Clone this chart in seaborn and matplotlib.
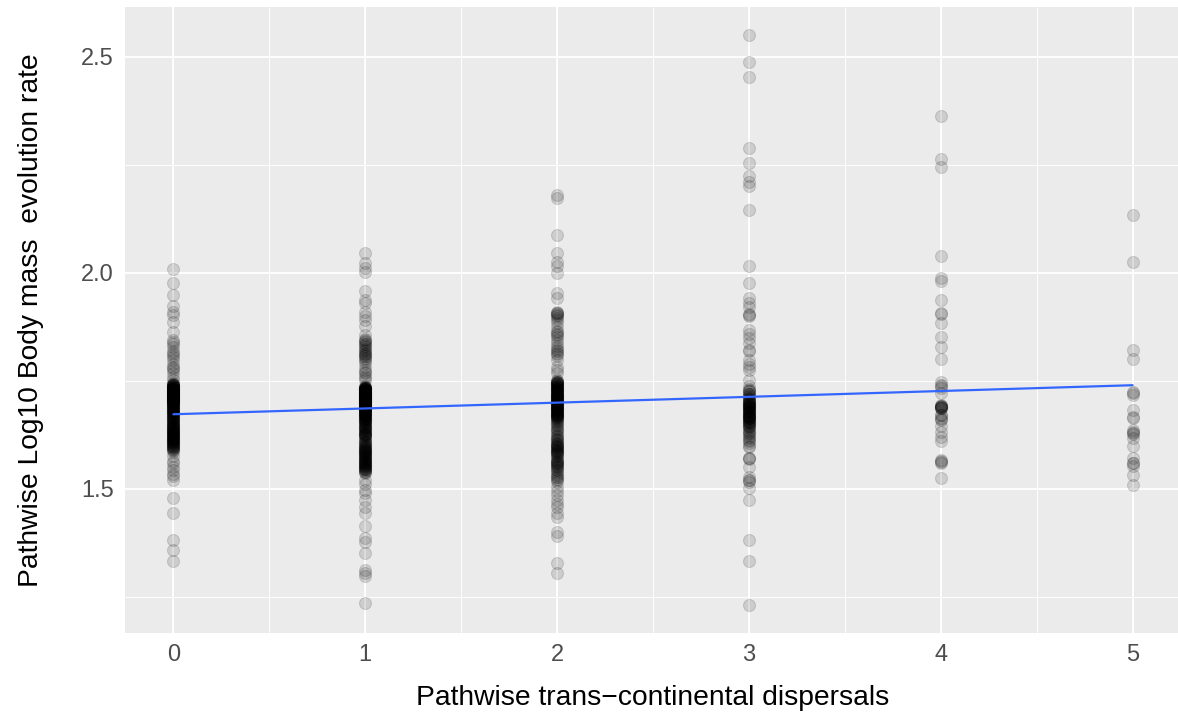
import numpy as np
import pandas as pd
import matplotlib
matplotlib.use("Agg")
import matplotlib.pyplot as plt
import seaborn as sns

# ---- data ----
disp0 = [2.008, 1.976, 1.949, 1.924, 1.910, 1.903, 1.887, 1.864, 1.845, 1.840,
         1.835, 1.829, 1.820, 1.814, 1.810, 1.805, 1.799, 1.790, 1.783, 1.780,
         1.775, 1.768, 1.760, 1.752,
         1.745, 1.740, 1.735, 1.730, 1.726, 1.722, 1.718, 1.714, 1.710, 1.706,
         1.702, 1.698, 1.694, 1.690, 1.686, 1.682, 1.678, 1.674, 1.670, 1.666,
         1.662, 1.658, 1.654, 1.650, 1.646, 1.642, 1.638, 1.634, 1.630, 1.626,
         1.622, 1.618, 1.614, 1.610, 1.605, 1.600, 1.595, 1.590,
         1.728, 1.716, 1.704, 1.692, 1.680, 1.668, 1.656, 1.644, 1.632, 1.620,
         1.712, 1.700, 1.688, 1.676, 1.664, 1.652,
         1.592, 1.597, 1.602, 1.607, 1.612, 1.617, 1.622, 1.627, 1.632, 1.637,
         1.642, 1.647, 1.652, 1.657, 1.662, 1.667, 1.672, 1.677, 1.682, 1.687,
         1.692, 1.697, 1.702, 1.707, 1.712, 1.717, 1.722, 1.727, 1.732, 1.737,
         1.601, 1.611, 1.621, 1.631, 1.641, 1.651, 1.661, 1.671, 1.681, 1.691,
         1.701, 1.711, 1.721, 1.731, 1.741, 1.665, 1.675, 1.685, 1.695, 1.705,
         1.715, 1.725, 1.735, 1.679, 1.689, 1.699, 1.709, 1.719, 1.683, 1.693,
         1.701, 1.704, 1.707, 1.710, 1.713, 1.716, 1.719, 1.722, 1.725, 1.728,
         1.731, 1.734, 1.737, 1.740, 1.743, 1.703, 1.709, 1.715, 1.721, 1.727,
         1.733, 1.739, 1.706, 1.712, 1.718, 1.724, 1.730, 1.736, 1.742, 1.700,
         1.705, 1.711, 1.717, 1.723, 1.729, 1.735, 1.741, 1.708, 1.720, 1.732,
         1.591, 1.594, 1.598, 1.603, 1.606, 1.609, 1.613, 1.616, 1.619, 1.624,
         1.628, 1.633, 1.636, 1.639, 1.644, 1.648, 1.596, 1.608, 1.618, 1.629,
         1.585, 1.575, 1.565, 1.559, 1.550, 1.544, 1.535, 1.529, 1.521,
         1.478, 1.444, 1.382, 1.359, 1.332]
disp1 = [2.046, 2.022, 2.011, 2.003, 1.957, 1.938, 1.930, 1.910, 1.899, 1.891,
         1.876, 1.856, 1.845, 1.840, 1.835, 1.828, 1.822, 1.815, 1.808, 1.800,
         1.791, 1.775, 1.768, 1.752,
         1.802, 1.808, 1.813, 1.818, 1.824, 1.830, 1.836, 1.842, 1.847, 1.812,
         1.757, 1.762, 1.771, 1.783, 1.795,
         1.734, 1.730, 1.726, 1.722, 1.718, 1.714, 1.710, 1.706, 1.702, 1.698,
         1.694, 1.690, 1.686, 1.682, 1.678, 1.674, 1.670, 1.666, 1.662, 1.658,
         1.654, 1.650, 1.646, 1.642, 1.638, 1.634, 1.630, 1.626, 1.622,
         1.732, 1.724, 1.716, 1.708, 1.700, 1.692, 1.684, 1.676, 1.668, 1.660,
         1.652, 1.644, 1.636, 1.628, 1.720, 1.704, 1.688, 1.672, 1.656, 1.640,
         1.621, 1.625, 1.629, 1.633, 1.637, 1.641, 1.645, 1.649, 1.653, 1.657,
         1.661, 1.665, 1.669, 1.673, 1.677, 1.681, 1.685, 1.689, 1.693, 1.697,
         1.701, 1.705, 1.709, 1.713, 1.717, 1.721, 1.725, 1.729, 1.733, 1.737,
         1.661, 1.664, 1.667, 1.670, 1.673, 1.676, 1.679, 1.682, 1.685, 1.688,
         1.691, 1.694, 1.697, 1.700, 1.703, 1.706, 1.709, 1.712, 1.715, 1.718,
         1.721, 1.724, 1.727, 1.730, 1.733, 1.696, 1.702, 1.708, 1.714, 1.720,
         1.681, 1.684, 1.687, 1.690, 1.693, 1.696, 1.699, 1.702, 1.705, 1.708,
         1.711, 1.714, 1.717, 1.720, 1.723, 1.726, 1.729, 1.732, 1.698, 1.704,
         1.710, 1.716, 1.722, 1.728, 1.692, 1.686, 1.700, 1.706, 1.712, 1.718,
         1.701, 1.704, 1.707, 1.710, 1.713, 1.716, 1.719, 1.722, 1.725, 1.728,
         1.731, 1.734, 1.703, 1.709, 1.715, 1.721, 1.727, 1.733, 1.706, 1.712,
         1.718, 1.724, 1.730, 1.736, 1.700, 1.711, 1.717, 1.723, 1.729, 1.735,
         1.606, 1.600, 1.595, 1.590, 1.585, 1.580, 1.575, 1.570, 1.565, 1.560,
         1.555, 1.550, 1.545, 1.540, 1.537, 1.598, 1.588, 1.578, 1.568, 1.558,
         1.548,
         1.540, 1.545, 1.550, 1.555, 1.560, 1.565, 1.570, 1.575, 1.580, 1.585,
         1.590, 1.596, 1.602, 1.608, 1.614,
         1.542, 1.547, 1.552, 1.557, 1.562, 1.567, 1.572, 1.577, 1.582, 1.587,
         1.592, 1.597, 1.603, 1.609, 1.543, 1.553, 1.563, 1.573, 1.583, 1.593,
         1.611, 1.616, 1.619, 1.624, 1.627,
         1.521, 1.512, 1.498, 1.491, 1.475, 1.459, 1.444, 1.413, 1.387, 1.378,
         1.352, 1.313, 1.306, 1.298, 1.236]
disp2 = [2.181, 2.173, 2.088, 2.046, 2.026, 2.015, 2.000, 1.953, 1.941, 1.910,
         1.907, 1.903, 1.884, 1.875, 1.866, 1.858, 1.852, 1.838, 1.830, 1.822,
         1.815, 1.808, 1.799, 1.783, 1.775, 1.768,
         1.905, 1.908, 1.900, 1.895, 1.890, 1.862, 1.855, 1.845, 1.826, 1.818,
         1.812,
         1.752, 1.748, 1.744, 1.740, 1.736, 1.732, 1.728, 1.724, 1.720, 1.716,
         1.712, 1.708, 1.704, 1.700, 1.696, 1.692, 1.688, 1.684, 1.680, 1.676,
         1.672, 1.668, 1.664, 1.660, 1.742, 1.730, 1.718, 1.706, 1.694, 1.682,
         1.670, 1.714, 1.698, 1.686,
         1.661, 1.664, 1.667, 1.670, 1.673, 1.676, 1.679, 1.682, 1.685, 1.688,
         1.691, 1.694, 1.697, 1.700, 1.703, 1.706, 1.709, 1.712, 1.715, 1.718,
         1.721, 1.724, 1.727, 1.730, 1.733, 1.736, 1.739, 1.742, 1.745, 1.748,
         1.666, 1.672, 1.678, 1.684, 1.690, 1.696, 1.702, 1.708, 1.714, 1.720,
         1.726, 1.732, 1.738, 1.744, 1.750, 1.669, 1.675, 1.681, 1.687, 1.693,
         1.699, 1.705, 1.711, 1.717, 1.723, 1.729, 1.735, 1.741, 1.747, 1.710,
         1.655, 1.647, 1.639, 1.631, 1.623, 1.615, 1.607, 1.599, 1.591, 1.583,
         1.575, 1.567, 1.559, 1.551, 1.543, 1.535, 1.527, 1.521, 1.596, 1.588,
         1.523, 1.528, 1.533, 1.538, 1.543, 1.548, 1.553, 1.558, 1.563, 1.568,
         1.573, 1.578, 1.583, 1.588, 1.593, 1.598, 1.603, 1.608, 1.613, 1.618,
         1.623, 1.628, 1.633, 1.638, 1.643, 1.648, 1.653, 1.657, 1.585, 1.590,
         1.601, 1.597, 1.604, 1.594, 1.561, 1.557, 1.564, 1.554, 1.612, 1.580,
         1.515, 1.505, 1.495, 1.485, 1.475, 1.465, 1.458, 1.444, 1.435, 1.401,
         1.390, 1.328, 1.305]
disp3 = [2.551, 2.487, 2.453, 2.290, 2.254, 2.225, 2.210, 2.200, 2.146, 2.015,
         1.976, 1.941, 1.930, 1.922, 1.905, 1.903, 1.900, 1.868, 1.858, 1.848,
         1.838, 1.822, 1.820, 1.799, 1.790, 1.782, 1.775, 1.752, 1.729, 1.720,
         1.712, 1.705, 1.700, 1.695, 1.690, 1.685, 1.680, 1.672, 1.665, 1.655,
         1.645, 1.635, 1.630, 1.620, 1.610, 1.597, 1.572, 1.570, 1.551, 1.528,
         1.520, 1.516, 1.502, 1.475, 1.382, 1.332, 1.231,
         1.600, 1.606, 1.612, 1.618, 1.624, 1.630, 1.636, 1.642, 1.648, 1.654,
         1.660, 1.666, 1.672, 1.678, 1.684, 1.690, 1.696, 1.702, 1.708, 1.714,
         1.720, 1.726, 1.732, 1.738, 1.655, 1.663, 1.671, 1.679, 1.687, 1.695,
         1.703, 1.711, 1.719, 1.727, 1.683, 1.691, 1.699, 1.707, 1.675, 1.667,
         1.662, 1.668, 1.674, 1.572, 1.520,
         1.641, 1.646, 1.651, 1.657, 1.661, 1.669, 1.677, 1.681, 1.686, 1.689,
         1.693, 1.697, 1.701, 1.652, 1.664]
disp4 = [2.363, 2.263, 2.244, 2.039, 1.988, 1.980, 1.938, 1.908, 1.905, 1.885,
         1.851, 1.828, 1.800, 1.748, 1.740, 1.737, 1.733, 1.722, 1.691, 1.688,
         1.670, 1.660, 1.645, 1.632, 1.620, 1.610, 1.567, 1.560, 1.525,
         1.692, 1.688, 1.692, 1.690, 1.686, 1.672, 1.663, 1.565,
         1.690, 1.695, 1.563, 1.661]
disp5 = [2.134, 2.026, 1.822, 1.800, 1.725, 1.718, 1.683, 1.667, 1.637, 1.629,
         1.617, 1.598, 1.571, 1.559, 1.552, 1.532, 1.509,
         1.722, 1.665, 1.632, 1.628, 1.560]

groups = [disp0, disp1, disp2, disp3, disp4, disp5]
x_ticks = [0, 1, 2, 3, 4, 5]
y_ticks = [1.5, 2.0, 2.5]

xs, ys = [], []
for k, vals in zip(x_ticks, groups):
    xs += [k] * len(vals)
    ys += vals
df = pd.DataFrame({"dispersals": xs, "rate": ys})

# ---- style ----
sns.set_theme(style="darkgrid")
plt.rcParams["font.family"] = ["Liberation Sans", "DejaVu Sans"]

fig = plt.figure(figsize=(11.78, 7.13), dpi=100)
ax = fig.add_axes([125 / 1178, 1 - 632.7 / 713, (1180.6 - 125) / 1178, (632.7 - 6.7) / 713])
ax.set_facecolor("#EBEBEB")

sns.scatterplot(data=df, x="dispersals", y="rate", ax=ax, s=75, color="black",
                alpha=0.13, edgecolor="black", linewidth=0.8, zorder=3, legend=False)
sns.regplot(data=df, x="dispersals", y="rate", ax=ax, scatter=False, ci=None,
            line_kws=dict(color="#3366FF", lw=1.6, zorder=4))

ax.set_xlim(-0.252, 5.25)
ax.set_ylim(1.167, 2.616)
ax.set_xticks(x_ticks)
ax.set_xticklabels([str(v) for v in x_ticks])
ax.set_yticks(y_ticks)
ax.set_yticklabels([f"{v:.1f}" for v in y_ticks])
ax.set_xticks([0.5, 1.5, 2.5, 3.5, 4.5], minor=True)
ax.set_yticks([1.25, 1.75, 2.25], minor=True)
ax.grid(which="major", color="white", lw=1.3)
ax.grid(which="minor", color="white", lw=0.65)
ax.set_axisbelow(True)
for sp in ax.spines.values():
    sp.set_visible(False)
ax.tick_params(axis="both", which="major", length=4, width=1, color="#333333",
               labelsize=17, labelcolor="#4D4D4D", pad=4)
ax.tick_params(axis="both", which="minor", length=0)

ax.set_xlabel("Pathwise trans\u2212continental dispersals", fontsize=20.3, color="black", labelpad=14)
ax.set_ylabel("Pathwise Log10 Body mass  evolution rate", fontsize=20.3, color="black", labelpad=27)

fig.savefig("out.png", dpi=100)
